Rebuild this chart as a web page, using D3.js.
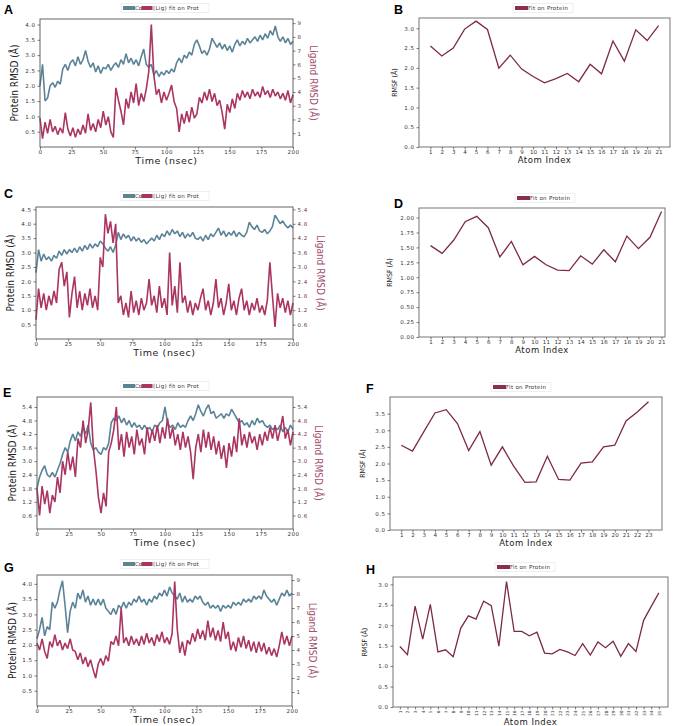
<!DOCTYPE html>
<html>
<head>
<meta charset="utf-8">
<script src="https://cdn.jsdelivr.net/npm/d3@7"></script>
<style>
  body { margin: 0; background: #fff; }
  .tick text { font-family: "DejaVu Sans", sans-serif; font-size: 5.5px; letter-spacing: 0.5px; fill: #333; }
  .tick line { stroke: #444; stroke-width: 0.7; }
  .axlab { font-family: "DejaVu Sans", sans-serif; fill: #222; }
  .narrow { font-family: "Liberation Sans Narrow", "DejaVu Sans Condensed", sans-serif; font-stretch: condensed; }
</style>
</head>
<body>
<script>
// sample times (ns), one reading every 2 ns
const timeNs = d3.range(0, 201, 2);

// --- panel A: RMSD ---
const protA = [
  2.0, 2.7, 1.5, 1.6, 2.0, 2.1, 1.95, 2.15, 2.05, 2.55,
  2.7, 2.5, 2.75, 2.85, 2.65, 2.95, 2.7, 2.85, 3.15, 2.8,
  2.6, 2.75, 2.45, 2.65, 2.4, 2.6, 2.55, 2.7, 2.5, 2.65,
  2.75, 2.6, 2.85, 2.7, 3.05, 2.75, 2.9, 2.7, 2.85, 2.65,
  2.95, 3.2, 2.7, 2.6, 2.7, 2.35, 2.5, 2.3, 2.45, 2.35,
  2.5, 2.4, 2.55, 2.45, 2.75, 2.9, 2.75, 3.0, 2.9, 3.1,
  3.0, 3.35, 3.5, 3.3, 3.05, 3.15, 3.0, 3.2, 3.55, 3.4,
  3.25, 3.4, 3.2, 3.35, 3.15, 3.3, 3.1, 3.35, 3.5, 3.3,
  3.45, 3.35, 3.55, 3.4, 3.5, 3.6, 3.45, 3.65, 3.5, 3.7,
  3.55, 3.8, 3.65, 3.95, 3.6, 3.45, 3.6, 3.4, 3.55, 3.35,
  3.45];
const ligA = [
  2.1, 0.6, 1.8, 1.0, 2.0, 1.1, 1.5, 0.9, 1.4, 1.0,
  2.5, 1.3, 0.8, 1.4, 0.7, 1.3, 0.9, 1.6, 1.0, 2.4,
  1.2, 1.7, 1.1, 2.0, 1.4, 2.6, 1.6, 2.2, 1.1, 0.7,
  4.3, 3.4, 2.6, 1.6, 3.5, 2.8, 4.0, 3.2, 4.6, 3.0,
  3.9, 3.3, 4.2, 5.5, 8.9, 5.2, 3.8, 4.2, 3.2, 4.0,
  3.4, 3.9, 4.5, 3.3, 2.8, 1.1, 2.4, 1.7, 2.6, 1.8,
  2.9, 2.1, 2.4, 3.6, 3.2, 4.0, 3.4, 4.2, 3.3, 3.9,
  3.0, 3.4, 2.5, 1.3, 3.1, 2.5, 3.5, 2.8, 3.9, 3.4,
  4.1, 3.6, 4.0, 3.5, 4.2, 3.7, 4.0, 3.6, 4.4, 3.8,
  4.1, 3.6, 4.2, 3.7, 4.0, 3.5, 3.9, 3.4, 4.1, 3.2,
  3.8];

// --- panel C: RMSD ---
const protC = [
  2.3, 3.1, 2.7, 2.95, 2.75, 2.85, 2.7, 2.9, 2.8, 3.05,
  2.9, 3.1, 2.95, 3.1, 3.0, 3.15, 3.0, 3.2, 3.05, 3.25,
  3.1, 3.3, 3.15, 3.3, 3.2, 3.4, 3.3, 3.15, 3.05, 3.2,
  3.0, 3.25, 3.7, 3.45, 3.65, 3.5, 3.6, 3.4, 3.55, 3.4,
  3.5, 3.35, 3.45, 3.3, 3.4, 3.5, 3.4, 3.6, 3.45, 3.65,
  3.55, 3.75, 3.6, 3.8, 3.65, 3.75, 3.55, 3.7, 3.5, 3.65,
  3.55, 3.7, 3.5, 3.45, 3.55, 3.4, 3.6, 3.45, 3.65, 3.55,
  3.7, 3.85, 3.6, 3.75, 3.55, 3.7, 3.6, 3.75, 3.55, 3.7,
  3.6, 3.55, 3.7, 4.05, 3.9, 3.8, 3.95, 3.75, 3.7, 3.8,
  3.65, 3.75, 3.9, 4.3, 4.15, 4.0, 4.1, 3.95, 3.85, 3.95,
  3.85];
const ligC = [
  0.8, 2.1, 1.3, 1.9, 1.2, 1.8, 1.4, 2.0, 1.5, 2.9,
  3.2, 2.2, 2.8, 0.9, 1.9, 2.6, 1.3, 2.0, 1.2, 1.9,
  1.4, 2.1, 1.3, 1.8, 1.2, 3.4, 3.0, 5.2, 4.4, 4.9,
  4.0, 4.8, 1.5, 1.8, 1.0, 1.5, 0.9, 2.0, 1.1, 1.6,
  1.0, 1.7, 1.2, 1.5, 2.5, 1.4, 1.8, 1.1, 2.2, 1.3,
  1.7, 1.0, 3.6, 1.4, 2.2, 1.1, 3.2, 1.5, 1.8, 1.1,
  1.6, 1.0, 1.5, 1.2, 1.7, 2.1, 1.2, 1.6, 1.0, 1.5,
  2.5, 1.3, 1.7, 1.0, 1.5, 2.3, 1.2, 1.6, 1.0, 1.7,
  2.1, 1.2, 1.6, 1.0, 1.5, 1.2, 1.7, 1.1, 1.4, 1.0,
  1.6, 3.2, 1.8, 0.5, 1.9, 1.3, 1.7, 1.1, 1.6, 1.0,
  1.5];

// --- panel E: RMSD ---
const protE = [
  1.8, 2.3, 2.6, 2.8, 2.4, 2.3, 2.5, 2.3, 2.6, 2.9,
  3.3, 3.6, 3.4, 3.9, 4.2, 3.9, 4.3, 4.1, 4.5, 4.2,
  4.6, 3.8, 3.5, 3.6, 3.4, 3.3, 3.6, 3.5, 3.8, 4.7,
  4.9, 4.8, 5.0, 4.7, 4.9, 4.6, 4.8, 4.5, 4.7, 4.5,
  4.6, 4.4, 4.6, 4.4, 4.5, 4.3, 4.6, 4.5, 4.7, 4.8,
  5.4, 4.7, 4.5, 4.6, 4.4, 4.7, 4.5, 4.6, 4.5, 4.8,
  5.0, 4.8, 5.1, 5.5, 5.2, 5.0, 5.3, 5.5, 5.1, 5.2,
  4.9, 5.0, 5.1, 4.9, 5.1, 5.0, 5.3, 5.1, 4.9, 4.7,
  4.8, 4.6, 4.7, 4.5, 4.8, 4.6, 4.9, 4.7, 4.8, 4.6,
  4.5, 4.6, 4.4, 4.5, 4.4, 4.6, 4.3, 4.5, 4.3, 4.6,
  4.4];
const ligE = [
  1.8, 0.6, 1.9, 1.1, 1.7, 0.7, 1.5, 1.2, 2.3, 1.6,
  3.0, 2.4, 3.4, 2.6, 3.2, 2.3, 4.0, 3.6, 4.8, 3.8,
  4.4, 5.6, 3.6, 2.6, 1.4, 0.7, 1.6, 1.0, 3.4, 3.8,
  4.4, 5.4, 3.5, 4.2, 3.2, 4.3, 3.6, 4.1, 3.3, 4.4,
  3.7, 4.0, 3.3, 4.5, 3.8, 4.4, 3.9, 4.6, 3.8, 4.5,
  4.0, 4.9, 4.0, 4.5, 3.7, 4.2, 3.5, 4.3, 3.6, 4.1,
  3.4, 2.2, 3.6, 4.2, 3.4, 4.4, 3.6, 4.3, 3.5, 4.1,
  3.3, 3.9, 3.1, 3.7, 2.7, 3.8, 3.2, 4.1, 3.4, 4.9,
  3.7, 4.2, 3.6, 4.3, 3.8, 4.1, 3.5, 4.2, 3.7, 4.3,
  3.9, 4.5, 4.0, 4.6, 3.9, 4.4, 5.0, 4.0, 4.4, 3.7,
  4.3];

// --- panel G: RMSD ---
const protG = [
  2.2, 2.5, 2.9, 2.3, 2.6, 2.5, 3.4, 3.2, 3.4, 3.8,
  4.1, 3.3, 2.4, 3.1, 3.4, 3.2, 3.7, 3.5, 3.8, 3.4,
  3.6, 3.3, 3.5, 3.3, 3.5, 3.3, 3.5, 3.2, 3.1, 3.0,
  3.2, 3.0, 3.3, 3.2, 3.4, 3.2, 3.4, 3.3, 3.5, 3.4,
  3.6, 3.4, 3.5, 3.3, 3.5, 3.4, 3.6, 3.5, 3.7, 3.6,
  3.8, 3.6, 3.9, 3.7, 3.6, 3.5, 3.7, 3.4, 3.6, 3.4,
  3.5, 3.4, 3.6, 3.5, 3.6, 3.4, 3.3, 3.4, 3.2, 3.3,
  3.2, 3.3, 3.1, 3.3, 3.2, 3.3, 3.2, 3.4, 3.3, 3.4,
  3.3, 3.5, 3.4, 3.5, 3.4, 3.6, 3.5, 3.6, 3.5, 3.8,
  3.6, 3.5, 3.4, 3.5, 3.3, 3.5, 3.7, 3.6, 3.8, 3.6,
  3.7];
const ligG = [
  4.5, 4.0, 4.8, 3.9, 3.4, 4.6, 4.2, 5.1, 4.3, 4.7,
  4.0, 4.5, 4.1, 4.8, 4.0, 3.9, 3.3, 3.8, 3.0, 3.5,
  2.8, 3.3, 2.6, 2.0, 3.0, 3.4, 2.9, 3.6, 3.2, 4.6,
  4.4, 5.0, 4.3, 7.0, 4.5, 4.9, 4.3, 5.0, 4.4, 4.8,
  4.3, 5.0, 4.4, 5.2, 4.5, 4.9, 4.3, 5.1, 4.6, 5.3,
  4.5, 4.9, 4.4, 5.2, 8.9, 5.5, 3.8, 4.6, 3.6, 4.7,
  4.4, 5.2, 4.6, 5.5, 4.8, 5.4, 4.7, 6.1, 4.9, 5.6,
  4.7, 5.4, 4.6, 6.0, 4.8, 5.3, 4.0, 4.6, 3.9, 4.9,
  4.2, 5.0, 4.1, 4.7, 3.9, 4.6, 3.8, 4.6, 3.9, 4.5,
  3.7, 4.2, 3.6, 4.1, 3.5, 4.3, 5.3, 4.4, 5.0, 4.3,
  5.0];

// --- RMSF panels (per atom index) ---
const rmsfB = [2.55, 2.30, 2.50, 2.98, 3.18, 2.97, 1.99, 2.32, 1.97, 1.78, 1.62,
  1.73, 1.86, 1.65, 2.09, 1.85, 2.68, 2.17, 2.96, 2.69, 3.07];
const rmsfD = [1.53, 1.40, 1.62, 1.93, 2.02, 1.83, 1.34, 1.60, 1.21, 1.35, 1.21,
  1.12, 1.11, 1.36, 1.22, 1.46, 1.26, 1.69, 1.48, 1.67, 2.10];
const rmsfF = [2.55, 2.37, 2.95, 3.52, 3.62, 3.20, 2.39, 2.96, 1.95, 2.50, 1.92, 1.43,
  1.45, 2.22, 1.52, 1.50, 2.01, 2.05, 2.50, 2.55, 3.28, 3.55, 3.86];
const rmsfH = [1.48, 1.28, 2.47, 1.66, 2.51, 1.35, 1.40, 1.23, 1.93, 2.23, 2.15, 2.59,
  2.48, 1.49, 3.07, 1.85, 1.85, 1.74, 1.83, 1.32, 1.30, 1.41, 1.35, 1.26, 1.55,
  1.27, 1.59, 1.45, 1.61, 1.24, 1.55, 1.36, 2.12, 2.46, 2.79];

// tick labels
const timeTicks = [0, 25, 50, 75, 100, 125, 150, 175, 200];
const protTicksAG = [0.5, 1.0, 1.5, 2.0, 2.5, 3.0, 3.5, 4.0];
const protTicksC = [0.5, 1.0, 1.5, 2.0, 2.5, 3.0, 3.5, 4.0, 4.5];
const ligTicksAG = [1, 2, 3, 4, 5, 6, 7, 8, 9];
const ligTicksC = [0.6, 1.2, 1.8, 2.4, 3.0, 3.6, 4.2, 4.8, 5.4];
const ticksE = [0.6, 1.2, 1.8, 2.4, 3.0, 3.6, 4.2, 4.8, 5.4];
const rmsfTicksBH = [0.0, 0.5, 1.0, 1.5, 2.0, 2.5, 3.0];
const rmsfTicksD = [0.0, 0.25, 0.5, 0.75, 1.0, 1.25, 1.5, 1.75, 2.0];
const rmsfTicksF = [0.0, 0.5, 1.0, 1.5, 2.0, 2.5, 3.0, 3.5];

const protColor = "#5b8397", ligColor = "#aa3562", rmsfColor = "#7c2a47";

const W = 677, H = 726;
const svg = d3.select("body").append("svg").attr("width", W).attr("height", H);

function letter(txt, x, y) {
  svg.append("text").attr("x", x).attr("y", y)
    .style("font-family", "Liberation Sans, Arial, sans-serif")
    .style("font-weight", "bold").style("font-size", "12.5px")
    .text(txt);
}

function styleAxis(g) {
  g.select(".domain").remove();
}

function rmsdPanel(o) {
  var x = d3.scaleLinear().domain([0, 200]).range([o.l, o.r]);
  var yL = d3.scaleLinear().domain(o.domL).range([o.b, o.t]);
  var yR = d3.scaleLinear().domain(o.domR).range([o.b, o.t]);

  var lineL = d3.line().x(function (d, i) { return x(timeNs[i]); }).y(function (d) { return yL(d); });
  var lineR = d3.line().x(function (d, i) { return x(timeNs[i]); }).y(function (d) { return yR(d); });

  svg.append("path").datum(o.prot).attr("d", lineL)
    .attr("fill", "none").attr("stroke", protColor).attr("stroke-width", 1.6).attr("stroke-linejoin", "bevel");
  svg.append("path").datum(o.lig).attr("d", lineR)
    .attr("fill", "none").attr("stroke", ligColor).attr("stroke-width", 1.6).attr("stroke-linejoin", "bevel");

  svg.append("rect").attr("x", o.l).attr("y", o.t).attr("width", o.r - o.l).attr("height", o.b - o.t)
    .attr("fill", "none").attr("stroke", "#555").attr("stroke-width", 0.9);

  svg.append("g").attr("transform", "translate(0," + o.b + ")")
    .call(d3.axisBottom(x).tickValues(timeTicks).tickSize(2.5).tickPadding(1).tickFormat(d3.format("d")))
    .call(styleAxis);
  svg.append("g").attr("transform", "translate(" + o.l + ",0)")
    .call(d3.axisLeft(yL).tickValues(o.ticksL).tickSize(2.5).tickPadding(2).tickFormat(d3.format(".1f")))
    .call(styleAxis);
  svg.append("g").attr("transform", "translate(" + o.r + ",0)")
    .call(d3.axisRight(yR).tickValues(o.ticksR).tickSize(2.5).tickPadding(2).tickFormat(o.fmtR))
    .call(styleAxis)
    .selectAll(".tick text").style("fill", "#6e3149");

  svg.append("text").attr("class", "axlab")
    .attr("x", (o.l + o.r) / 2).attr("y", o.b + 17)
    .attr("text-anchor", "middle").style("font-size", "9.5px").style("letter-spacing", "0.6px")
    .text("Time (nsec)");
  svg.append("text").attr("class", "axlab narrow")
    .attr("transform", "translate(" + o.lx + "," + ((o.t + o.b) / 2) + ") rotate(-90)")
    .attr("text-anchor", "middle").attr("dy", "0.35em").style("font-size", "10px")
    .text("Protein RMSD (Å)");
  svg.append("text").attr("class", "axlab narrow")
    .attr("transform", "translate(" + o.rx + "," + ((o.t + o.b) / 2) + ") rotate(90)")
    .attr("text-anchor", "middle").attr("dy", "0.35em").style("font-size", "10px")
    .style("fill", "#a4506f")
    .text("Ligand RMSD (Å)");

  // legend
  var ly = o.t - 11;
  var lg = svg.append("g");
  lg.append("rect").attr("x", 121).attr("y", ly - 4.5).attr("width", 88).attr("height", 9)
    .attr("fill", "#fff").attr("stroke", "#e4e4e4").attr("stroke-width", 0.6);
  lg.append("rect").attr("x", 123).attr("y", ly - 2).attr("width", 12).attr("height", 4).attr("fill", protColor);
  lg.append("text").attr("x", 135).attr("y", ly).attr("dy", "0.35em")
    .style("font-family", "DejaVu Sans, sans-serif").style("font-size", "5.5px").style("fill", "#333").text("Cα");
  lg.append("rect").attr("x", 141.5).attr("y", ly - 2).attr("width", 11).attr("height", 4).attr("fill", ligColor);
  lg.append("text").attr("x", 153).attr("y", ly).attr("dy", "0.35em")
    .style("font-family", "DejaVu Sans, sans-serif").style("font-size", "5.5px").style("fill", "#333")
    .style("letter-spacing", "0.3px").text("(Lig) fit on Prot");
}

function rmsfPanel(o) {
  var idx = d3.range(1, o.vals.length + 1);
  var x = d3.scaleLinear().domain(o.domX).range([o.l, o.r]);
  var y = d3.scaleLinear().domain(o.domY).range([o.b, o.t]);
  var line = d3.line().x(function (d, i) { return x(idx[i]); }).y(function (d) { return y(d); });

  svg.append("path").datum(o.vals).attr("d", line)
    .attr("fill", "none").attr("stroke", rmsfColor).attr("stroke-width", 1.3);

  svg.append("rect").attr("x", o.l).attr("y", o.t).attr("width", o.r - o.l).attr("height", o.b - o.t)
    .attr("fill", "none").attr("stroke", "#666").attr("stroke-width", 0.9);

  var gx = svg.append("g").attr("transform", "translate(0," + o.b + ")")
    .call(d3.axisBottom(x).tickValues(idx).tickSize(2.5).tickPadding(1).tickFormat(d3.format("d")))
    .call(styleAxis);
  gx.selectAll(".tick text").style("letter-spacing", "0.2px");
  if (o.rotate) {
    gx.selectAll(".tick text").attr("transform", "rotate(-90)")
      .attr("text-anchor", "end").attr("x", -3.5).attr("y", 0).attr("dy", "0.35em")
      .style("font-size", "4.3px").style("letter-spacing", "0px");
  }
  svg.append("g").attr("transform", "translate(" + o.l + ",0)")
    .call(d3.axisLeft(y).tickValues(o.ticks).tickSize(2.5).tickPadding(2).tickFormat(d3.format(o.fmt)))
    .call(styleAxis);

  svg.append("text").attr("class", "axlab")
    .attr("x", (o.l + o.r) / 2).attr("y", o.b + o.xlabDy)
    .attr("text-anchor", "middle").style("font-size", "8.5px").style("letter-spacing", "0.5px")
    .text("Atom Index");
  svg.append("text").attr("class", "axlab narrow")
    .attr("transform", "translate(" + o.lx + "," + ((o.t + o.b) / 2) + ") rotate(-90)")
    .attr("text-anchor", "middle").attr("dy", "0.35em").style("font-size", "7px")
    .text("RMSF (Å)");

  var ly = o.t - 10;
  svg.append("rect").attr("x", o.legX - 2).attr("y", ly - 4.5).attr("width", 60).attr("height", 9)
    .attr("fill", "#fff").attr("stroke", "#e4e4e4").attr("stroke-width", 0.6);
  svg.append("rect").attr("x", o.legX).attr("y", ly - 2).attr("width", 13).attr("height", 4).attr("fill", "#8b2e4f");
  svg.append("text").attr("x", o.legX + 13).attr("y", ly).attr("dy", "0.35em")
    .style("font-family", "DejaVu Sans, sans-serif").style("font-size", "5.5px").style("fill", "#333")
    .style("letter-spacing", "0.3px").text("Fit on Protein");
}

rmsdPanel({ l: 40, r: 293, t: 19, b: 147, prot: protA, lig: ligA, domL: [0, 4.18], domR: [0, 9.3],
  ticksL: protTicksAG, ticksR: ligTicksAG, fmtR: d3.format("d"), lx: 14, rx: 313 });
rmsdPanel({ l: 36, r: 293, t: 207, b: 339, prot: protC, lig: ligC, domL: [0, 4.58], domR: [0, 5.5],
  ticksL: protTicksC, ticksR: ligTicksC, fmtR: d3.format(".1f"), lx: 10, rx: 320 });
rmsdPanel({ l: 37, r: 293, t: 397, b: 529, prot: protE, lig: ligE, domL: [0, 5.84], domR: [0, 5.84],
  ticksL: ticksE, ticksR: ticksE, fmtR: d3.format(".1f"), lx: 12, rx: 318 });
rmsdPanel({ l: 37, r: 292, t: 575, b: 706, prot: protG, lig: ligG, domL: [0, 4.29], domR: [0, 9.36],
  ticksL: protTicksAG, ticksR: ligTicksAG, fmtR: d3.format("d"), lx: 12, rx: 312 });

rmsfPanel({ l: 419, r: 670, t: 18, b: 147, vals: rmsfB, domX: [0, 22], domY: [0, 3.26],
  ticks: rmsfTicksBH, fmt: ".1f", lx: 395, legX: 515, xlabDy: 15.5 });
rmsfPanel({ l: 419, r: 665, t: 208, b: 337, vals: rmsfD, domX: [0, 21.3], domY: [0, 2.16],
  ticks: rmsfTicksD, fmt: ".2f", lx: 390, legX: 517, xlabDy: 15.5 });
rmsfPanel({ l: 390, r: 662, t: 397, b: 530, vals: rmsfF, domX: [0, 24.2], domY: [0, 4.0],
  ticks: rmsfTicksF, fmt: ".1f", lx: 363, legX: 493, xlabDy: 15.5 });
rmsfPanel({ l: 393, r: 668, t: 577, b: 707, vals: rmsfH, domX: [0.1, 36.2], domY: [0, 3.18],
  ticks: rmsfTicksBH, fmt: ".1f", lx: 365, legX: 497, xlabDy: 17.5, rotate: true });

letter("A", 4, 14);
letter("B", 394, 14);
letter("C", 4, 198);
letter("D", 394, 208);
letter("E", 3, 397);
letter("F", 366, 393);
letter("G", 4, 572);
letter("H", 366, 574);
</script>
</body>
</html>
